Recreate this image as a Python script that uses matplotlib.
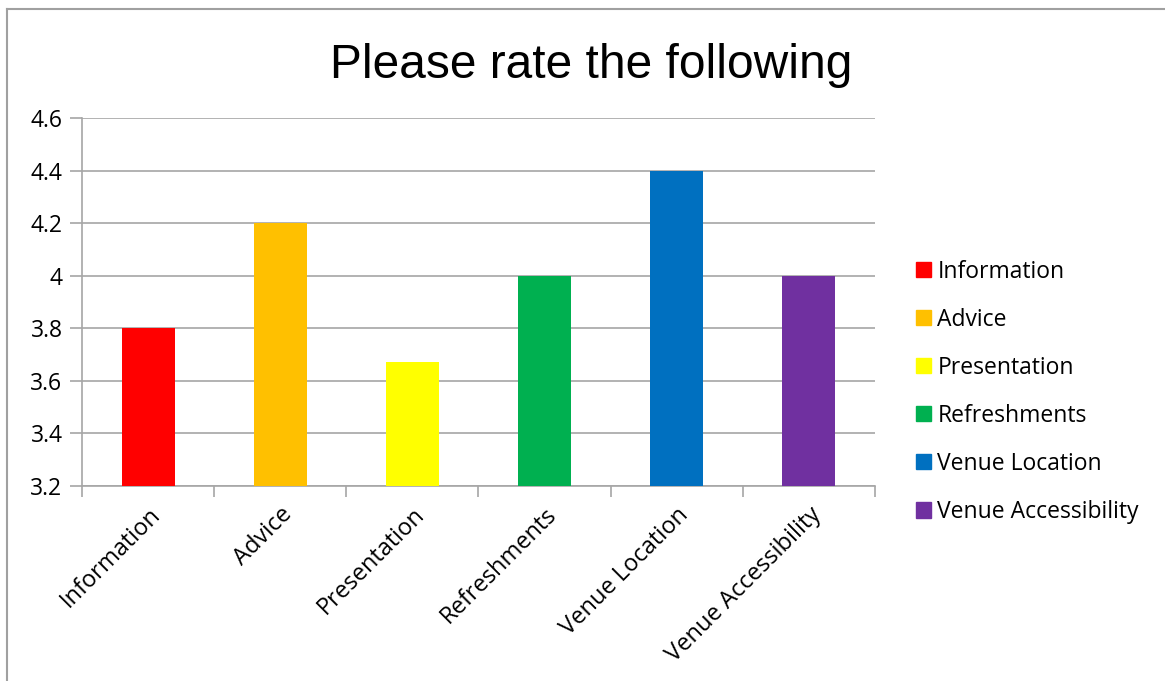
import matplotlib.pyplot as plt
from matplotlib.patches import Rectangle
from matplotlib.lines import Line2D

categories = ["Information", "Advice", "Presentation", "Refreshments",
              "Venue Location", "Venue Accessibility"]
ratings = [3.8, 4.2, 3.67, 4.0, 4.4, 4.0]
colors = ["#ff0000", "#ffc000", "#ffff00", "#00b050", "#0070c0", "#7030a0"]
yticks = [3.2, 3.4, 3.6, 3.8, 4.0, 4.2, 4.4, 4.6]
ytick_labels = ["3.2", "3.4", "3.6", "3.8", "4", "4.2", "4.4", "4.6"]

W, H = 1165, 681
fig = plt.figure(figsize=(W / 100, H / 100), dpi=100)
fig.patch.set_facecolor("white")

# chart frame (left and top edges visible)
fig.add_artist(Line2D([7 / W, 7 / W], [0, 1 - 9 / H], color="#a0a0a0", lw=1.5))
fig.add_artist(Line2D([7 / W, 1], [1 - 9 / H, 1 - 9 / H], color="#a0a0a0", lw=1.5))

x0, x1 = 82, 875
y0, y1 = 118, 486
ax = fig.add_axes([x0 / W, 1 - y1 / H, (x1 - x0) / W, (y1 - y0) / H])

n = len(categories)
xs = list(range(n))
ax.bar(xs, [r - 3.2 for r in ratings], bottom=3.2, width=0.4, color=colors,
       zorder=3)
ax.set_xlim(-0.5, n - 0.5)
ax.set_ylim(3.2, 4.6)

font = ["Open Sans", "DejaVu Sans"]
fs = 16.5

grid_col = "#a6a6a6"
ax.set_yticks(yticks)
ax.set_yticklabels(ytick_labels)
ax.yaxis.grid(True, color=grid_col, lw=1.2, zorder=0)
for s in ["top", "right"]:
    ax.spines[s].set_visible(False)
for s in ["left", "bottom"]:
    ax.spines[s].set_color(grid_col)
    ax.spines[s].set_linewidth(1.2)

ax.tick_params(axis="y", length=9, color=grid_col, width=1.2, pad=5,
               labelsize=fs)
ax.set_xticks([i - 0.5 for i in range(n + 1)], minor=False)
ax.set_xticklabels([])
ax.tick_params(axis="x", length=8, color=grid_col, width=1.2)
ax.set_xticks(xs, minor=True)
ax.set_xticklabels(categories, minor=True, rotation=45, ha="right",
                   rotation_mode="anchor", fontsize=17)
ax.tick_params(axis="x", which="minor", length=0, pad=12)
for lbl in ax.get_yticklabels() + ax.get_xticklabels(minor=True):
    lbl.set_family(font)
    lbl.set_color("black")

fig.text(591 / W, 1 - 66 / H, "Please rate the following", ha="center",
         va="center", fontsize=34.5, family="Liberation Sans")

# legend
handles = [Rectangle((0, 0), 1, 1, color=c) for c in colors]
leg = fig.legend(handles, categories, loc="upper left",
                 bbox_to_anchor=(895 / W, 1 - 239 / H), frameon=False,
                 handlelength=0.65, handleheight=0.65, handletextpad=0.3,
                 labelspacing=1.05, prop={"family": font, "size": fs})

fig.savefig("out.png", dpi=100)
